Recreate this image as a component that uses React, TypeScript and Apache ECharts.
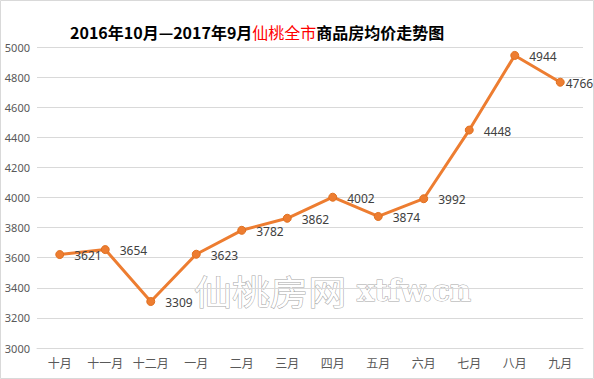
import React, { useEffect, useRef } from "react";
import * as echarts from "echarts";

const months = ["十月", "十一月", "十二月", "一月", "二月", "三月", "四月", "五月", "六月", "七月", "八月", "九月"];
const prices = [3621, 3654, 3309, 3623, 3782, 3862, 4002, 3874, 3992, 4448, 4944, 4766];
const yMin = 3000;
const yMax = 5000;
const yStep = 200;

export default function App() {
  const ref = useRef<HTMLDivElement>(null);
  useEffect(() => {
    document.body.style.margin = "0";
    const chart = echarts.init(ref.current!, null, { renderer: "svg" });
    chart.setOption({
      animation: false,
      backgroundColor: "#fff",
      title: {
        text: "{b|2016年10月—2017年9月}{r|仙桃全市}{b|商品房均价走势图}",
        left: 65,
        top: 19,
        textStyle: {
          rich: {
            b: { fontSize: 16, fontWeight: "bold", color: "#000", fontFamily: "Noto Sans CJK SC" },
            r: { fontSize: 16, fontWeight: "normal", color: "#ff0000", fontFamily: "Noto Sans CJK SC" },
          },
        },
      },
      graphic: [
        {
          type: "rect",
          shape: { x: 0.5, y: 0.5, width: 593, height: 378 },
          style: { fill: "none", stroke: "#d9d9d9", lineWidth: 1 },
          z: 100,
        },
        {
          type: "text",
          x: 194,
          y: 273,
          scaleX: 1.12,
          style: {
            text: "仙桃房网",
            font: "34px 'Noto Sans CJK SC'",
            fill: "#fff",
            stroke: "#a6a6a6",
            lineWidth: 1,
          },
          z: 0,
        },
        {
          type: "text",
          x: 357,
          y: 276,
          style: {
            text: "xtfw.cn",
            font: "bold 29px 'DejaVu Serif'",
            fill: "#fff",
            stroke: "#a6a6a6",
            lineWidth: 1,
          },
          z: 0,
        },
      ],
      grid: { left: 37, right: 11, top: 47, bottom: 31 },
      xAxis: {
        type: "category",
        data: months,
        boundaryGap: true,
        axisLine: { lineStyle: { color: "#d9d9d9" } },
        axisTick: { show: false },
        axisLabel: { color: "#595959", fontSize: 12, fontFamily: "Noto Sans CJK SC", margin: 8, interval: 0 },
      },
      yAxis: {
        type: "value",
        min: yMin,
        max: yMax,
        interval: yStep,
        axisLine: { show: false },
        axisTick: { show: false },
        splitLine: { lineStyle: { color: "#d9d9d9" } },
        axisLabel: {
          color: "#595959",
          fontSize: 11,
          fontFamily: "Noto Sans",
          margin: 7,
          formatter: (v: number) => String(v),
        },
      },
      series: [
        {
          type: "line",
          data: prices.map((v, i) =>
            i === prices.length - 1 ? { value: v, label: { distance: 1 } } : v
          ),
          z: 5,
          lineStyle: { color: "#ED7D31", width: 3 },
          itemStyle: { color: "#ED7D31", borderColor: "#E0701F", borderWidth: 1 },
          symbol: "circle",
          symbolSize: 8,
          label: {
            show: true,
            position: "right",
            distance: 10,
            color: "#404040",
            fontSize: 12,
            fontFamily: "Noto Sans",
            offset: [0, 1],
          },
        },
      ],
    });
    return () => chart.dispose();
  }, []);
  return <div ref={ref} style={{ width: 594, height: 379 }} />;
}
